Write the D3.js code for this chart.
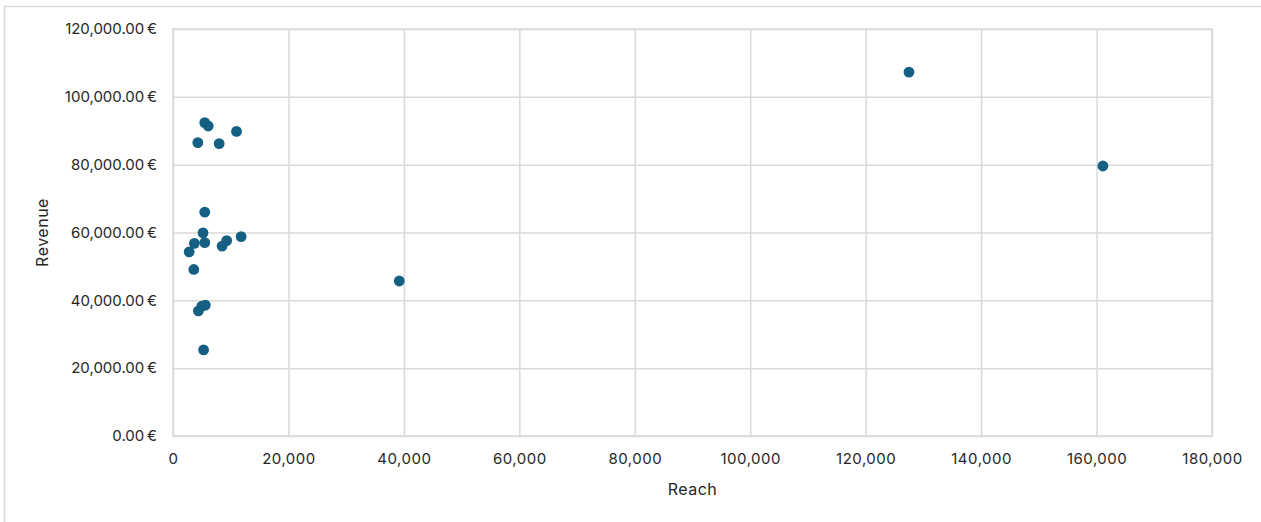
<!DOCTYPE html>
<html>
<head>
<meta charset="utf-8">
<script src="https://cdn.jsdelivr.net/npm/d3@7"></script>
<style>
  html, body { margin: 0; padding: 0; background: #fff; }
  svg { display: block; }
  text { font-family: Inter, "Liberation Sans", sans-serif; fill: #262626; }
</style>
</head>
<body>
<svg id="chart" width="1261" height="522"></svg>
<script>
// Reach vs. revenue per campaign
const reach   = [5500, 6100, 4300, 8000, 11000, 5500, 5200, 3700, 5500, 2800, 3600,
                 8500, 9300, 11800, 4400, 5000, 5600, 5300, 39200, 127500, 161100];
const revenue = [92400, 91400, 86500, 86200, 89800, 66000, 59900, 56800, 57000, 54300, 49100,
                 56000, 57600, 58800, 36900, 38300, 38600, 25400, 45700, 107300, 79600];
const xTicks = [0, 20000, 40000, 60000, 80000, 100000, 120000, 140000, 160000, 180000];
const yTicks = [0, 20000, 40000, 60000, 80000, 100000, 120000];
const xTitle = "Reach";
const yTitle = "Revenue";

const svg = d3.select("#chart");
const W = 1261, H = 522;
const m = { left: 173, right: 1212, top: 29, bottom: 436 };
const FONT = "Inter, 'Liberation Sans', sans-serif";

// outer chart frame
svg.append("rect")
  .attr("x", 4.5).attr("y", 6.5)
  .attr("width", W + 10).attr("height", H + 10)
  .attr("fill", "none").attr("stroke", "#d9d9d9").attr("stroke-width", 1.5);

const x = d3.scaleLinear().domain([0, 180000]).range([m.left, m.right]);
const y = d3.scaleLinear().domain([0, 120000]).range([m.bottom, m.top]);

const fmtX = d3.format(",");
const fmtY = v => d3.format(",.2f")(v) + "\u202F€";

// vertical gridlines and x tick labels
const xAxis = d3.axisBottom(x).tickValues(xTicks).tickFormat(fmtX)
  .tickSize(-(m.bottom - m.top)).tickPadding(17);
const gx = svg.append("g").attr("transform", `translate(0,${m.bottom})`).call(xAxis);
gx.select(".domain").remove();
gx.selectAll(".tick line").attr("stroke", "#d9d9d9").attr("stroke-width", 1.5);
gx.selectAll(".tick text").attr("font-size", 15).attr("fill", "#262626")
  .attr("letter-spacing", 0.5).style("font-family", FONT);

// horizontal gridlines and y tick labels
const yAxis = d3.axisLeft(y).tickValues(yTicks).tickFormat(fmtY)
  .tickSize(-(m.right - m.left)).tickPadding(16);
const gy = svg.append("g").attr("transform", `translate(${m.left},0)`).call(yAxis);
gy.select(".domain").remove();
gy.selectAll(".tick line").attr("stroke", "#d9d9d9").attr("stroke-width", 1.5);
gy.selectAll(".tick text").attr("font-size", 15).attr("fill", "#262626")
  .attr("letter-spacing", 0.5).style("font-family", FONT);

// plot area border
svg.append("rect")
  .attr("x", m.left).attr("y", m.top)
  .attr("width", m.right - m.left).attr("height", m.bottom - m.top)
  .attr("fill", "none").attr("stroke", "#d9d9d9").attr("stroke-width", 1.5);

// axis titles
svg.append("text")
  .attr("x", (m.left + m.right) / 2).attr("y", 495)
  .attr("text-anchor", "middle").attr("font-size", 16).attr("letter-spacing", 0.5)
  .text(xTitle);
svg.append("text")
  .attr("transform", `translate(48,${(m.top + m.bottom) / 2}) rotate(-90)`)
  .attr("text-anchor", "middle").attr("font-size", 16).attr("letter-spacing", 0.5)
  .text(yTitle);

// scatter markers
svg.append("g").selectAll("circle")
  .data(reach.map((r, i) => ({ r, v: revenue[i] })))
  .join("circle")
  .attr("cx", d => x(d.r)).attr("cy", d => y(d.v))
  .attr("r", 5.4)
  .attr("fill", "#156082");
</script>
</body>
</html>
